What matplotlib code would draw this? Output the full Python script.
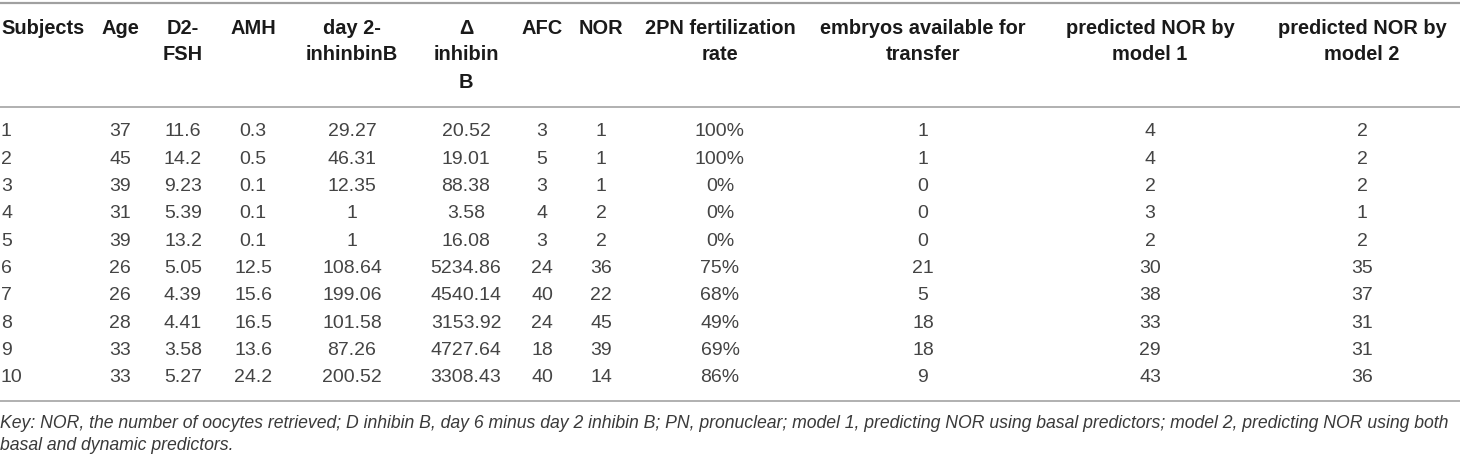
import matplotlib
matplotlib.use("Agg")
import matplotlib.pyplot as plt

# table content
headers = ["Subjects", "Age", "D2-\nFSH", "AMH", "day 2-\ninhinbinB", "\u0394\ninhibin\nB",
           "AFC", "NOR", "2PN fertilization\nrate", "embryos available for\ntransfer",
           "predicted NOR by\nmodel 1", "predicted NOR by\nmodel 2"]
subjects = ["1", "2", "3", "4", "5", "6", "7", "8", "9", "10"]
age = ["37", "45", "39", "31", "39", "26", "26", "28", "33", "33"]
d2_fsh = ["11.6", "14.2", "9.23", "5.39", "13.2", "5.05", "4.39", "4.41", "3.58", "5.27"]
amh = ["0.3", "0.5", "0.1", "0.1", "0.1", "12.5", "15.6", "16.5", "13.6", "24.2"]
d2_inhb = ["29.27", "46.31", "12.35", "1", "1", "108.64", "199.06", "101.58", "87.26", "200.52"]
delta_inhb = ["20.52", "19.01", "88.38", "3.58", "16.08", "5234.86", "4540.14", "3153.92", "4727.64", "3308.43"]
afc = ["3", "5", "3", "4", "3", "24", "40", "24", "18", "40"]
nor = ["1", "1", "1", "2", "2", "36", "22", "45", "39", "14"]
fert_rate = ["100%", "100%", "0%", "0%", "0%", "75%", "68%", "49%", "69%", "86%"]
embryos = ["1", "1", "0", "0", "0", "21", "5", "18", "18", "9"]
pred_m1 = ["4", "4", "2", "3", "2", "30", "38", "33", "29", "43"]
pred_m2 = ["2", "2", "2", "1", "2", "35", "37", "31", "31", "36"]
key_lines = ["Key: NOR, the number of oocytes retrieved; D inhibin B, day 6 minus day 2 inhibin B; PN, pronuclear; "
             "model 1, predicting NOR using basal predictors; model 2, predicting NOR using both",
             "basal and dynamic predictors."]

columns = [subjects, age, d2_fsh, amh, d2_inhb, delta_inhb, afc, nor, fert_rate, embryos, pred_m1, pred_m2]

# layout (pixels)
W, H = 1460, 459
col_x = [1, 120, 183, 253, 352, 466, 542, 601, 720, 923, 1150, 1362]
px = 72 / 100  # pixel -> point at dpi 100
FONT = "Liberation Sans"

fig = plt.figure(figsize=(W / 100, H / 100), dpi=100)
ax = fig.add_axes([0, 0, 1, 1])
ax.set_xlim(0, W)
ax.set_ylim(H, 0)
ax.axis("off")

line_col = "#a0a0a0"
ax.plot([0, W], [2.5, 2.5], color=line_col, lw=2.2 * px, solid_capstyle="butt")
ax.plot([0, W], [107, 107], color=line_col, lw=1.6 * px, solid_capstyle="butt")
ax.plot([0, W], [401, 401], color=line_col, lw=1.6 * px, solid_capstyle="butt")

for j, h in enumerate(headers):
    ha = "left" if j == 0 else "center"
    for k, part in enumerate(h.split("\n")):
        ax.text(col_x[j], 28 + k * 27, part, ha=ha, va="center", fontsize=20 * px,
                fontweight="bold", family=FONT, color="#1a1a1a")

for j, col in enumerate(columns):
    ha = "left" if j == 0 else "center"
    for i, v in enumerate(col):
        ax.text(col_x[j], 132 + i * 27.3, v, ha=ha, va="center", fontsize=19.5 * px,
                family=FONT, color="#444444")

for k, line in enumerate(key_lines):
    ax.text(0, 423 + k * 22, line, ha="left", va="center", fontsize=17.6 * px,
            family=FONT, style="italic", color="#3a3a3a")

fig.savefig("out.png", dpi=100)
